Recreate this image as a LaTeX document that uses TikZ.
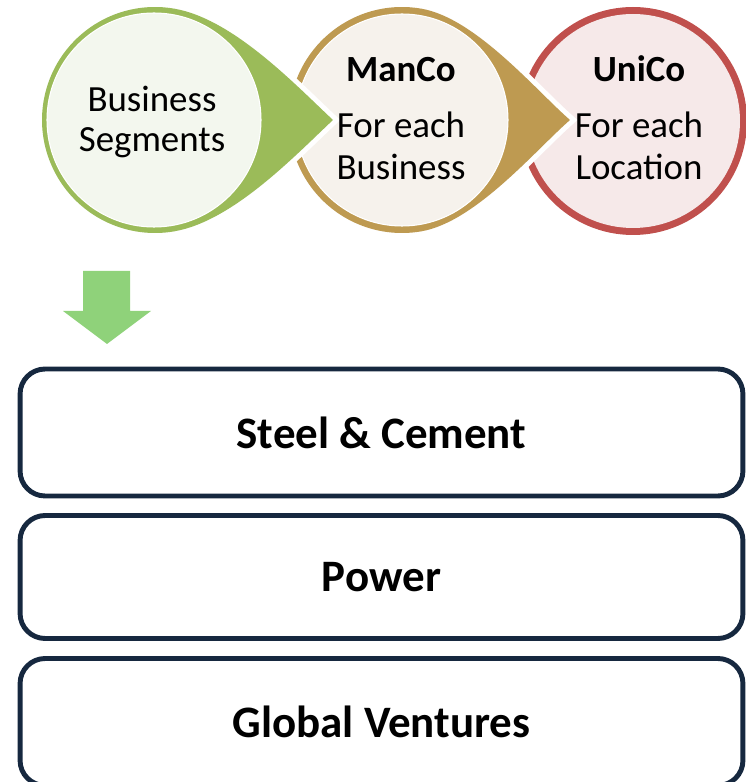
\documentclass[tikz,border=0pt]{standalone}
\usepackage{fontspec}
\setmainfont{Carlito}

\definecolor{segdark}{HTML}{9BBB59}
\definecolor{seglight}{HTML}{F3F7EE}
\definecolor{mandark}{HTML}{BE9A51}
\definecolor{manlight}{HTML}{F6F2EC}
\definecolor{unidark}{HTML}{C0504D}
\definecolor{unilight}{HTML}{F6E9E9}
\definecolor{boxblue}{HTML}{16283F}
\definecolor{arrowgreen}{HTML}{8FD27A}

\begin{document}
\begin{tikzpicture}[x=0.02cm,y=0.02cm,
  ringtxt/.style={anchor=base, inner sep=0pt, font=\fontsize{21}{25}\selectfont},
  gapline/.style={preaction={draw=white, line width=5.7pt}},
  innerdisc/.style={draw=white, line width=0.6pt},
  segbox/.style={draw=boxblue, line width=2.8pt, rounded corners=0.5cm,
    minimum width=14.46cm, minimum height=2.54cm, inner sep=0pt,
    font=\fontsize{25.6}{30}\selectfont\bfseries}]

 \useasboundingbox (0,0) rectangle (746,782);

 % centres and tips
 \coordinate (gc) at (155,662);
 \coordinate (gt) at (333,662);
 \coordinate (mc) at (402,662);
 \coordinate (mt) at (570,662);
 \coordinate (uc) at (633,661);

 % UniCo
 \fill[unidark] (uc) circle (114);
 \fill[unilight] (uc) circle (107);

 % ManCo
 \fill[mandark, gapline] (mt) .. controls +(139:45) and +(-10:55) .. ([shift={(80:113)}]mc)
   arc[start angle=80, end angle=280, radius=113]
   .. controls +(10:55) and +(221:45) .. (mt) -- cycle;
 \filldraw[innerdisc, fill=manlight] (mc) circle (106);

 % Business Segments
 \fill[segdark, gapline] (gt) .. controls +(137:50) and +(-10:60) .. ([shift={(80:113)}]gc)
   arc[start angle=80, end angle=280, radius=113]
   .. controls +(10:60) and +(223:50) .. (gt) -- cycle;
 \filldraw[innerdisc, fill=seglight] (154,662) circle (107);

 % circle texts
 \node[ringtxt] (segA) at (152,670) {Business};
 \node[ringtxt] (segB) at (152,630) {Segments};

 \node[ringtxt, font=\fontsize{21}{25}\selectfont\bfseries] (manA) at (401,700) {ManCo};
 \node[ringtxt] (manB) at (401,644) {For each};
 \node[ringtxt] (manC) at (401,602) {Business};

 \node[ringtxt, font=\fontsize{21}{25}\selectfont\bfseries] (uniA) at (639,700) {UniCo};
 \node[ringtxt] (uniB) at (639,644) {For each};
 \node[ringtxt] (uniC) at (639,602) {Location};

 % arrow
 \fill[arrowgreen] (83,511) -- (130,511) -- (130,471) -- (151,471) -- (107,438)
   -- (63,471) -- (83,471) -- cycle;

 % segment boxes
 \node[segbox] (steel) at (381.5,349.5) {Steel \& Cement};
 \node[segbox, minimum height=2.46cm] (power) at (381.5,205) {Power};
 \node[segbox] (global) at (381.5,60) {Global Ventures};
\end{tikzpicture}
\end{document}
